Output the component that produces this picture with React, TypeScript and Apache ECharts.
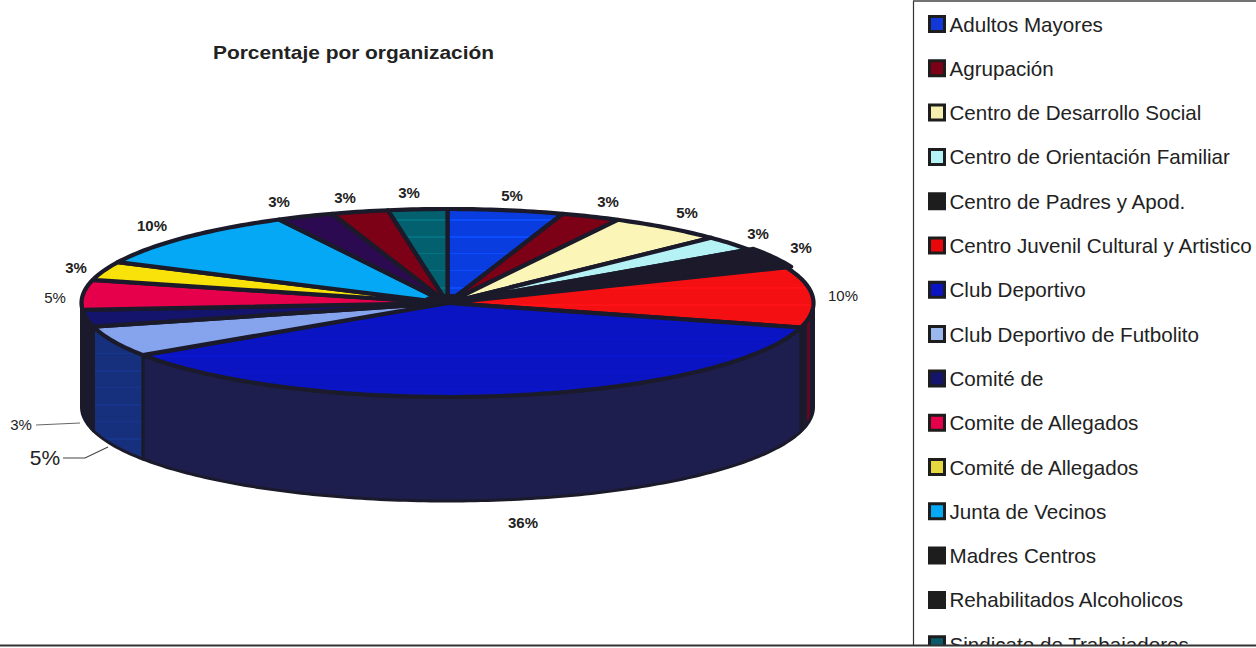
import React, { useEffect, useRef } from "react";
import * as echarts from "echarts";

const categories = [
  "Adultos Mayores", "Agrupación", "Centro de Desarrollo Social", "Centro de Orientación Familiar",
  "Centro de Padres y Apod.", "Centro Juvenil Cultural y Artistico", "Club Deportivo",
  "Club Deportivo de Futbolito", "Comité de", "Comite de Allegados", "Comité de Allegados ",
  "Junta de Vecinos", "Madres Centros", "Rehabilitados Alcoholicos", "Sindicato de Trabajadores",
];
// Shares; the labels show them rounded.
const percentages = [5.1, 2.6, 5.1, 2.6, 3.4, 10.4, 36.45, 5.3, 2.9, 5.1, 3.2, 10.25, 2.5, 2.5, 2.6];
const topColors = ["#0a3de0", "#7c0016", "#fbf6b8", "#b4f2f6", "#1c1a2a", "#f40f12", "#0a14c2", "#86a4ee", "#14146c", "#e6004c", "#f9e10a", "#04a8f4", "#2c0a52", "#7c0016", "#03606e"];
const wallColors = ["#1c1c3c", "#1c1c3c", "#1c1c3c", "#1c1c3c", "#1c1c3c", "#1c1a30", "#1e1e4e", "#16307e", "#1a1a2c", "#1a1a2c", "#1a1a2c", "#1a1a2c", "#1a1a2c", "#1a1a2c", "#1a1a2c"];
const swatchColors = ["#1238d8", "#7c0016", "#f6f0b0", "#b4f2f6", "#1d1d1d", "#e8080c", "#0a14c2", "#9ab8ee", "#14146c", "#e6004c", "#e8d840", "#04a8f4", "#1d1d1d", "#1d1d1d", "#0a5a6a"];
const stripeStrength: Record<number, number> = { 0: -0.25, 5: -0.2, 6: -0.07, 14: -0.2 };

const CX = 447.5, CY = 303, RX = 366, RY = 94, DEPTH = 104;
const INK = "#1a1a2a";
const FONT = '"Liberation Sans", Arial, sans-serif';
const labelPlaces: [number, number, number, string][] = [
  [512, 195, 15, "bold"], [608, 201, 15, "bold"], [687, 212, 15, "bold"], [758, 233, 15, "bold"],
  [801, 247, 15, "bold"], [843, 295, 15, "normal"], [523, 522, 15, "bold"], [45, 457, 21, "normal"],
  [21, 424, 15, "normal"], [55, 297, 15, "normal"], [76, 267, 15, "bold"], [152, 225, 15, "bold"],
  [279, 201, 15, "bold"], [345, 197, 15, "bold"], [409, 192, 15, "bold"],
];

const rad = (d: number) => (d * Math.PI) / 180;
const rim = (deg: number, dy = 0, k = 1): [number, number] => [CX + k * RX * Math.sin(rad(deg)), CY - k * RY * Math.cos(rad(deg)) + dy];
const arc = (a: number, b: number, dy = 0, k = 1) => {
  const pts: [number, number][] = [];
  const n = Math.max(2, Math.ceil(Math.abs(b - a)));
  for (let i = 0; i <= n; i++) pts.push(rim(a + ((b - a) * i) / n, dy, k));
  return pts;
};
const striped = (c: string, amount: number, y0: number, y1: number) => {
  const light = echarts.color.lift(c, amount);
  const stops: { offset: number; color: string }[] = [];
  const span = y1 - y0;
  for (let y = 10; y + 2 < span; y += 17) {
    stops.push({ offset: y / span, color: c }, { offset: y / span, color: light }, { offset: (y + 1.5) / span, color: light }, { offset: (y + 1.5) / span, color: c });
  }
  return { type: "linear", x: 0, y: y0, x2: 0, y2: y1, global: true, colorStops: [{ offset: 0, color: c }, ...stops, { offset: 1, color: c }] };
};
const wallFill = (idx: number) => {
  if (idx === 7) return striped(wallColors[idx], -0.12, CY + 40, CY + 150);
  if (idx === 5) {
    const d = wallColors[idx], r = "#5c0a20";
    return { type: "linear", x: 803, y: 0, x2: 815, y2: 0, global: true, colorStops: [
      { offset: 0, color: d }, { offset: 0.35, color: d }, { offset: 0.35, color: r }, { offset: 0.55, color: r }, { offset: 0.55, color: d }, { offset: 1, color: d },
    ] };
  }
  return wallColors[idx];
};

const makeRenderItem = (idx: number) => (_p: any, api: any) => {
  const value = api.value(0) as number;
  const start = (api.value(1) as number) * 3.6;
  const end = start + value * 3.6;
  const children: any[] = [];
  const a = Math.max(start, 90), b = Math.min(end, 270);
  if (b > a) {
    children.push({
      type: "polygon",
      shape: { points: [...arc(a, b), ...arc(b, a, DEPTH)] },
      style: { fill: wallFill(idx), stroke: INK, lineWidth: 3, lineJoin: "round" },
    });
  }
  const fill = stripeStrength[idx] !== undefined ? striped(topColors[idx], stripeStrength[idx], CY - RY, CY + RY) : topColors[idx];
  children.push({
    type: "polygon",
    shape: { points: [[CX, CY], ...arc(start, end, 0, idx === 4 ? 1.015 : 1)] },
    style: { fill, stroke: INK, lineWidth: 4.2, lineJoin: "round" },
  });
  const [x, y, size, weight] = labelPlaces[idx];
  children.push({
    type: "text",
    z2: 20,
    style: { text: `${Math.round(value)}%`, x, y, align: "center", verticalAlign: "middle", fill: "#222", font: `${weight} ${size}px ${FONT}` },
  });
  return { type: "group", children };
};

let running = 0;
const cumulative = percentages.map((v) => { const s = running; running += v; return s; });

export default function App() {
  const ref = useRef<HTMLDivElement>(null);
  useEffect(() => {
    document.body.style.margin = "0";
    const chart = echarts.init(ref.current!, null, { renderer: "svg" });
    chart.setOption({
      animation: false,
      backgroundColor: "#fff",
      legend: {
        orient: "vertical", left: 923, top: 8.5, height: 720, itemWidth: 15, itemHeight: 15, itemGap: 23.3,
        selectedMode: false, z: 3,
        textStyle: { fontFamily: FONT, fontSize: 20.6, color: "#222" },
        data: categories.map((name, i) => ({ name, icon: "rect", itemStyle: { color: swatchColors[i], borderColor: "#1d1d1d", borderWidth: 3 } })),
      },
      series: categories.map((name, i) => ({
        type: "custom", name, coordinateSystem: "none", silent: true, z: 2,
        itemStyle: { color: topColors[i] },
        data: [[percentages[i], cumulative[i]]],
        renderItem: makeRenderItem(i),
      })),
      graphic: [
        { type: "text", z: 51, x: 213, y: 53, scaleX: 1.195, style: { text: "Porcentaje por organización", font: `bold 17.5px ${FONT}`, fill: "#222", verticalAlign: "middle" } },
        { type: "ellipse", z: 51, shape: { cx: 449, cy: 299, rx: 24, ry: 5 }, style: { fill: INK } },
        { type: "rect", z: 50, shape: { x: 0, y: 645, width: 1256, height: 3 }, style: { fill: "#fff" } },
        { type: "line", z: 51, shape: { x1: 0, y1: 645.5, x2: 1256, y2: 645.5 }, style: { stroke: "#333", lineWidth: 2 } },
        { type: "line", z: 51, shape: { x1: 913.5, y1: 1, x2: 913.5, y2: 645 }, style: { stroke: "#333", lineWidth: 1.2 } },
        { type: "line", z: 51, shape: { x1: 913, y1: 1, x2: 1256, y2: 1 }, style: { stroke: "#444", lineWidth: 1.5 } },
        { type: "polyline", z: 51, shape: { points: [[36, 425], [80, 423]] }, style: { stroke: "#666", lineWidth: 1, fill: "none" } },
        { type: "polyline", z: 51, shape: { points: [[63, 458], [85, 458], [108, 447]] }, style: { stroke: "#444", lineWidth: 1.2, fill: "none" } },
      ],
    });
    return () => chart.dispose();
  }, []);
  return <div ref={ref} style={{ width: 1256, height: 648 }} />;
}
